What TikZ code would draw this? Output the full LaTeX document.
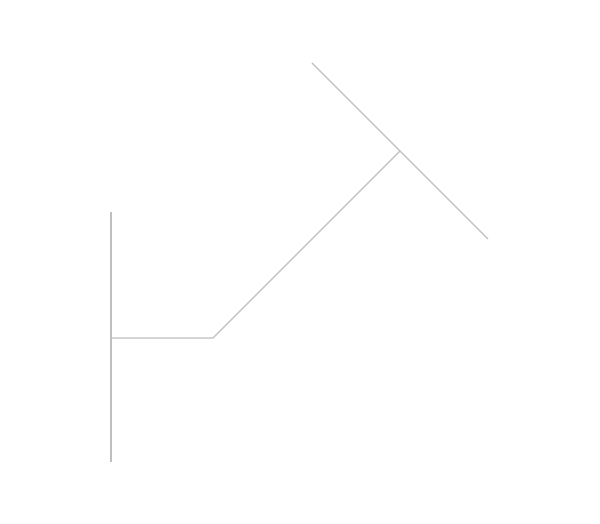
\documentclass[tikz,border=0pt]{standalone}
\usepackage{tikz}
\usetikzlibrary{positioning}

\tikzset{pipe/.style={draw=black!25, line width=0.8pt}}

\begin{document}
\begin{tikzpicture}[x=0.02cm, y=-0.02cm]
    \useasboundingbox (0,0) rectangle (600,524);

    \coordinate (stemtop) at (111,212);
    \coordinate (stembot) at (111,462);
    \coordinate (stemmid) at (111,338);
    \coordinate (bend) at (213,338);
    \coordinate (tee) at (400,151);
    \coordinate (bartop) at (312,63);
    \coordinate (barbot) at (488,239);

	\draw[pipe] (stemtop) -- (stembot);
	\draw[pipe] (stemmid) -- (bend) -- (tee);
	\draw[pipe] (bartop) -- (barbot);
\end{tikzpicture}
\end{document}
